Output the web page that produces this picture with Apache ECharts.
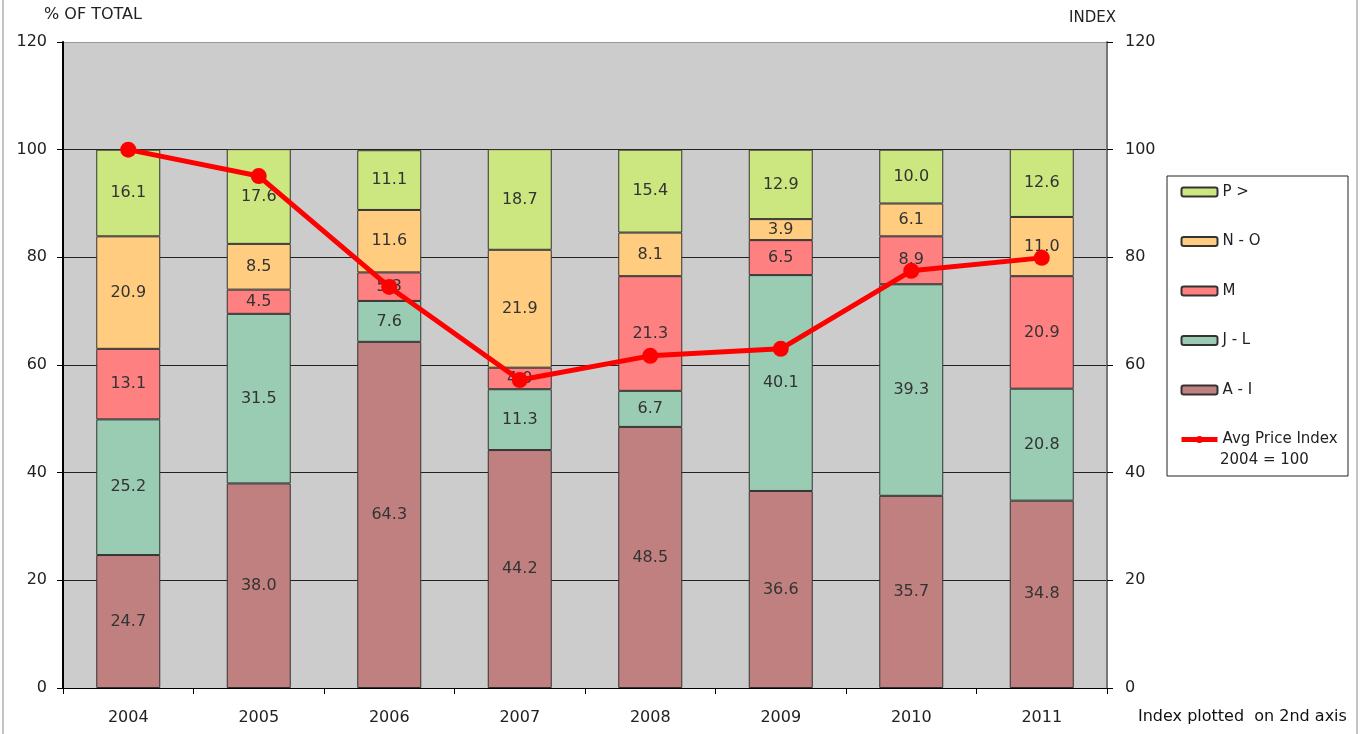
<!DOCTYPE html>
<html>
<head>
<meta charset="utf-8">
<script src="https://cdn.jsdelivr.net/npm/echarts@6/dist/echarts.min.js"></script>
<style>
  html, body { margin: 0; padding: 0; background: #fff; }
  #main { width: 1362px; height: 734px; }
</style>
</head>
<body>
<div id="main"></div>
<script>
var years = ['2004', '2005', '2006', '2007', '2008', '2009', '2010', '2011'];
var seriesAI = [24.7, 38.0, 64.3, 44.2, 48.5, 36.6, 35.7, 34.8];
var seriesJL = [25.2, 31.5, 7.6, 11.3, 6.7, 40.1, 39.3, 20.8];
var seriesM = [13.1, 4.5, 5.3, 4.0, 21.3, 6.5, 8.9, 20.9];
var seriesNO = [20.9, 8.5, 11.6, 21.9, 8.1, 3.9, 6.1, 11.0];
var seriesP = [16.1, 17.6, 11.1, 18.7, 15.4, 12.9, 10.0, 12.6];
var priceIndex = [100, 95.1, 74.5, 57.2, 61.7, 63.0, 77.5, 79.9];

var font = 'DejaVu Sans';
var chart = echarts.init(document.getElementById('main'));

function barSeries(name, data, color) {
  return {
    name: name,
    type: 'bar',
    stack: 'total',
    data: data,
    barWidth: 64,
    itemStyle: { color: color, borderColor: '#333', borderWidth: 1 },
    label: {
      show: true,
      position: 'inside',
      color: '#333',
      fontFamily: font,
      fontSize: 16,
      formatter: function (p) { return p.value.toFixed(1); }
    },
    emphasis: { disabled: true }
  };
}

var option = {
  animation: false,
  textStyle: { fontFamily: font },
  grid: {
    left: 63, right: 255, top: 42, bottom: 46,
    show: true, backgroundColor: '#cccccc', borderWidth: 0
  },
  legend: {
    orient: 'vertical',
    left: 1179,
    top: 184,
    padding: 0,
    itemWidth: 36,
    itemHeight: 9,
    itemGap: 33.5,
    data: ['P >', 'N - O', 'M', 'J - L', 'A - I',
      { name: 'Avg Price Index', itemStyle: { color: '#ff0000' }, lineStyle: { width: 5, color: '#ff0000' } }],
    textStyle: { fontFamily: font, fontSize: 15, color: '#222', lineHeight: 16 }
  },
  xAxis: {
    type: 'category',
    data: years,
    axisLine: { lineStyle: { color: '#000', width: 1 } },
    axisTick: { show: true, length: 6, lineStyle: { color: '#000' } },
    axisLabel: { color: '#222', fontSize: 16, fontFamily: font, margin: 22 }
  },
  yAxis: [
    {
      type: 'value', min: 0, max: 120, interval: 20,
      axisLine: { show: true, lineStyle: { color: '#000', width: 2 } },
      axisTick: { show: true, length: 6, lineStyle: { color: '#000' } },
      axisLabel: { color: '#222', fontSize: 16, fontFamily: font, margin: 16 },
      splitLine: { show: true, lineStyle: { color: ['#222', '#222', '#222', '#222', '#222', '#222', '#999'], width: 1 } }
    },
    {
      type: 'value', min: 0, max: 120, interval: 20, position: 'right',
      axisLine: { show: true, lineStyle: { color: '#777', width: 2 } },
      axisTick: { show: true, length: 6, lineStyle: { color: '#000' } },
      axisLabel: { color: '#222', fontSize: 16, fontFamily: font, margin: 18 },
      splitLine: { show: false }
    }
  ],
  series: [
    barSeries('A - I', seriesAI, '#c08080'),
    barSeries('J - L', seriesJL, '#99ccb3'),
    barSeries('M', seriesM, '#ff8080'),
    barSeries('N - O', seriesNO, '#ffcc80'),
    barSeries('P >', seriesP, '#cce680'),
    {
      name: 'Avg Price Index',
      type: 'line',
      yAxisIndex: 1,
      data: priceIndex,
      symbol: 'circle',
      symbolSize: 16,
      itemStyle: { color: '#ff0000' },
      lineStyle: { color: '#ff0000', width: 5 },
      z: 5,
      emphasis: { disabled: true }
    }
  ],
  graphic: [
    { type: 'text', left: 44, top: 7, style: { text: '% OF TOTAL', font: '16px DejaVu Sans', fill: '#222' } },
    { type: 'text', left: 1069, top: 11, style: { text: 'INDEX', font: '15px DejaVu Sans', fill: '#222' } },
    { type: 'text', left: 1138, top: 709, style: { text: 'Index plotted  on 2nd axis', font: '16px DejaVu Sans', fill: '#111' } },
    { type: 'text', left: 1220, top: 453, style: { text: '2004 = 100', font: '15px DejaVu Sans', fill: '#222' } },
    { type: 'rect', shape: { x: 1167, y: 176, width: 181, height: 300 }, style: { fill: 'none', stroke: '#222', lineWidth: 1 }, z: -1 },
    { type: 'line', shape: { x1: 3, y1: 0, x2: 3, y2: 734 }, style: { stroke: '#888', lineWidth: 1 } },
    { type: 'line', shape: { x1: 1357, y1: 0, x2: 1357, y2: 734 }, style: { stroke: '#888', lineWidth: 1 } }
  ]
};

chart.setOption(option);
</script>
</body>
</html>
